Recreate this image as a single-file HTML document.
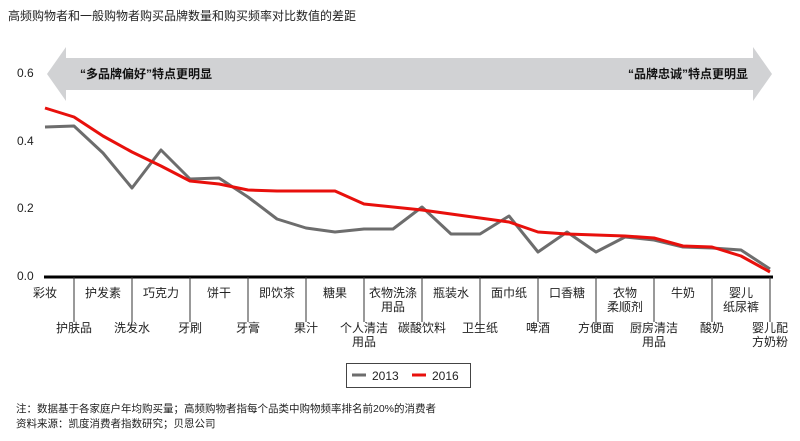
<!DOCTYPE html>
<html><head><meta charset="utf-8"><style>
body{margin:0;background:#fff;width:800px;height:436px;overflow:hidden;font-family:"Liberation Sans","Noto Sans CJK SC",sans-serif;}
</style></head><body>
<svg width="800" height="436" xmlns="http://www.w3.org/2000/svg" font-family="Liberation Sans, Noto Sans CJK SC, sans-serif">
<text x="8" y="20" font-size="12" fill="#222">高频购物者和一般购物者购买品牌数量和购买频率对比数值的差距</text>
<polygon points="47,74 66,47 66,58 753,58 753,47 772,74 753,101 753,90 66,90 66,101" fill="#d1d2d4"/>
<text x="80" y="78" font-size="12" font-weight="bold" fill="#111">“多品牌偏好”特点更明显</text>
<text x="748" y="78" font-size="12" font-weight="bold" fill="#111" text-anchor="end">“品牌忠诚”特点更明显</text>
<g font-size="12" fill="#222">
<text x="17" y="77">0.6</text><text x="17" y="145">0.4</text><text x="17" y="212">0.2</text><text x="17" y="280">0.0</text>
</g>
<polyline fill="none" stroke="#6d6d6d" stroke-width="3" stroke-linejoin="round" points="45,127 74,126 103,153 132,188 161,150 190,179 219,178 248,197 277,219 306,228 335,232 364,229 393,229 422,207 451,234 480,234 509,216 538,252 567,232 596,252 625,237 654,240 683,247 712,248 741,250 770,269"/>
<polyline fill="none" stroke="#e8100c" stroke-width="3" stroke-linejoin="round" points="45,108 74,117 103,136 132,152 161,166 190,181 219,184 248,190 277,191 306,191 335,191 364,204 393,207 422,210 451,214 480,218 509,222 538,232 567,234 596,235 625,236 654,238 683,246 712,247 741,256 770,272"/>
<line x1="44" y1="277" x2="773" y2="277" stroke="#000" stroke-width="3"/>
<g stroke="#333" stroke-width="1">
<line x1="74" y1="277" x2="74" y2="322"/><line x1="132" y1="277" x2="132" y2="322"/><line x1="190" y1="277" x2="190" y2="322"/><line x1="248" y1="277" x2="248" y2="322"/><line x1="306" y1="277" x2="306" y2="322"/><line x1="364" y1="277" x2="364" y2="322"/><line x1="422" y1="277" x2="422" y2="322"/><line x1="480" y1="277" x2="480" y2="322"/><line x1="538" y1="277" x2="538" y2="322"/><line x1="596" y1="277" x2="596" y2="322"/><line x1="654" y1="277" x2="654" y2="322"/><line x1="712" y1="277" x2="712" y2="322"/><line x1="770" y1="277" x2="770" y2="322"/>
</g>
<g font-size="12" fill="#222" text-anchor="middle">
<text x="45" y="297">彩妆</text><text x="103" y="297">护发素</text><text x="161" y="297">巧克力</text><text x="219" y="297">饼干</text><text x="277" y="297">即饮茶</text><text x="335" y="297">糖果</text><text x="393" y="297">衣物洗涤</text><text x="393" y="311">用品</text><text x="451" y="297">瓶装水</text><text x="509" y="297">面巾纸</text><text x="567" y="297">口香糖</text><text x="625" y="297">衣物</text><text x="625" y="311">柔顺剂</text><text x="683" y="297">牛奶</text><text x="741" y="297">婴儿</text><text x="741" y="311">纸尿裤</text>
<text x="74" y="332">护肤品</text><text x="132" y="332">洗发水</text><text x="190" y="332">牙刷</text><text x="248" y="332">牙膏</text><text x="306" y="332">果汁</text><text x="364" y="332">个人清洁</text><text x="364" y="346">用品</text><text x="422" y="332">碳酸饮料</text><text x="480" y="332">卫生纸</text><text x="538" y="332">啤酒</text><text x="596" y="332">方便面</text><text x="654" y="332">厨房清洁</text><text x="654" y="346">用品</text><text x="712" y="332">酸奶</text><text x="770" y="332">婴儿配</text><text x="770" y="346">方奶粉</text>
</g>
<rect x="346.5" y="363.5" width="124" height="24" fill="#fff" stroke="#444"/>
<line x1="352" y1="375" x2="366" y2="375" stroke="#6d6d6d" stroke-width="3"/>
<text x="372" y="380" font-size="12" fill="#222">2013</text>
<line x1="412" y1="375" x2="426" y2="375" stroke="#e8100c" stroke-width="3"/>
<text x="432" y="380" font-size="12" fill="#222">2016</text>
<text x="16" y="412" font-size="10.5" fill="#222">注：数据基于各家庭户年均购买量；高频购物者指每个品类中购物频率排名前20%的消费者</text>
<text x="16" y="427" font-size="10.5" fill="#222">资料来源：凯度消费者指数研究；贝恩公司</text>
</svg>
</body></html>
